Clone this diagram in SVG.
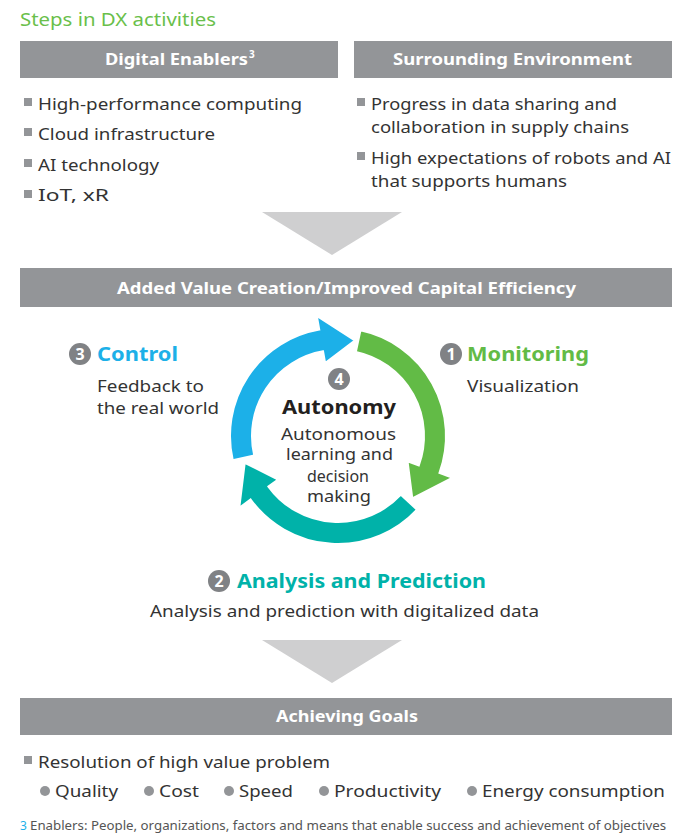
<svg xmlns="http://www.w3.org/2000/svg" width="674" height="838" viewBox="0 0 674 838">
<style>
text{font-family:"Noto Sans","Open Sans","Liberation Sans",sans-serif;fill:#333333}
.t{font-size:17px}
.c{font-size:16px}
.hd{font-size:16px;font-weight:bold;fill:#ffffff}
.band{fill:#939598}
.tri{fill:#cfcfd0}
.sq{fill:#939598}
.num{fill:#808285}
.numt{font-size:16px;font-weight:bold;fill:#ffffff;text-anchor:middle}
.lbl{font-size:20px;font-weight:bold}
.dot{fill:#939598}
</style>
<rect width="674" height="838" fill="#ffffff"/>
<text x="20" y="26" style="font-size:18px;fill:#6abf4b" textLength="196" lengthAdjust="spacingAndGlyphs">Steps in DX activities</text>

<g id="digital-enablers">
<rect class="band" x="20" y="41" width="318" height="37"/>
<text class="hd" x="105" y="65" textLength="143" lengthAdjust="spacingAndGlyphs">Digital Enablers</text>
<text x="249" y="58" style="font-size:10px;font-weight:bold;fill:#ffffff">3</text>
<rect class="sq" x="24" y="98" width="8" height="8"/>
<text class="t" x="38" y="110" textLength="264" lengthAdjust="spacingAndGlyphs">High-performance computing</text>
<rect class="sq" x="24" y="128" width="8" height="8"/>
<text class="t" x="38" y="140" textLength="177" lengthAdjust="spacingAndGlyphs">Cloud infrastructure</text>
<rect class="sq" x="24" y="159" width="8" height="8"/>
<text class="t" x="38" y="171" textLength="121" lengthAdjust="spacingAndGlyphs">AI technology</text>
<rect class="sq" x="24" y="190" width="8" height="8"/>
<text class="t" x="38" y="201" textLength="71" lengthAdjust="spacingAndGlyphs">IoT, xR</text>
</g>

<g id="surrounding-environment">
<rect class="band" x="354" y="41" width="318" height="37"/>
<text class="hd" x="393" y="65" textLength="239" lengthAdjust="spacingAndGlyphs">Surrounding Environment</text>
<rect class="sq" x="357" y="98" width="8" height="8"/>
<text class="t" x="371" y="110" textLength="246" lengthAdjust="spacingAndGlyphs">Progress in data sharing and</text>
<text class="t" x="371" y="133" textLength="258" lengthAdjust="spacingAndGlyphs">collaboration in supply chains</text>
<rect class="sq" x="357" y="152" width="8" height="8"/>
<text class="t" x="371" y="164" textLength="300" lengthAdjust="spacingAndGlyphs">High expectations of robots and AI</text>
<text class="t" x="371" y="187" textLength="196" lengthAdjust="spacingAndGlyphs">that supports humans</text>
</g>

<g id="connectors">
<polygon class="tri" points="262,212 402,212 332,255"/>
<polygon class="tri" points="262,640 402,640 332,683"/>
</g>

<g id="added-value">
<rect class="band" x="20" y="268" width="652" height="39"/>
<text class="hd" x="117" y="294" textLength="459" lengthAdjust="spacingAndGlyphs">Added Value Creation/Improved Capital Efficiency</text>
</g>

<g id="cycle" stroke="#ffffff" stroke-width="2" stroke-linejoin="miter">
<path fill="#00b2a9" d="M416.99,509.66 A108,108 0 0 1 250.63,499.48 L239.30,507.71 L244.76,462.74 L278.13,479.50 L268.43,486.55 A86,86 0 0 0 400.90,494.65 Z"/>
<path fill="#1cb0e8" d="M232.76,460.30 A108,108 0 0 1 319.25,329.64 L316.82,315.85 L354.84,340.47 L325.15,363.12 L323.07,351.31 A86,86 0 0 0 254.20,455.35 Z"/>
<path fill="#62bb46" d="M360.46,330.36 A108,108 0 0 1 439.49,472.94 L452.64,477.73 L412.30,498.35 L407.54,461.31 L418.81,465.41 A86,86 0 0 0 355.88,351.88 Z"/>
</g>

<g id="autonomy">
<circle class="num" cx="339" cy="379" r="11"/>
<text class="numt" x="339" y="385">4</text>
<text x="339" y="414" style="font-size:20px;font-weight:bold;fill:#231f20;text-anchor:middle" textLength="114" lengthAdjust="spacingAndGlyphs">Autonomy</text>
<text class="c" x="338.5" y="440" text-anchor="middle" textLength="115" lengthAdjust="spacingAndGlyphs">Autonomous</text>
<text class="c" x="339.5" y="460" text-anchor="middle" textLength="107" lengthAdjust="spacingAndGlyphs">learning and</text>
<text class="c" x="338" y="482" text-anchor="middle" textLength="62" lengthAdjust="spacingAndGlyphs">decision</text>
<text class="c" x="339" y="502" text-anchor="middle" textLength="64" lengthAdjust="spacingAndGlyphs">making</text>
</g>

<g id="control">
<circle class="num" cx="80" cy="354" r="11"/>
<text class="numt" x="80" y="360">3</text>
<text class="lbl" x="97" y="361" style="fill:#1cb0e8" textLength="81" lengthAdjust="spacingAndGlyphs">Control</text>
<text class="t" x="97" y="392" textLength="107" lengthAdjust="spacingAndGlyphs">Feedback to</text>
<text class="t" x="97" y="414" textLength="122" lengthAdjust="spacingAndGlyphs">the real world</text>
</g>

<g id="monitoring">
<circle class="num" cx="451" cy="354" r="11"/>
<text class="numt" x="451" y="360">1</text>
<text class="lbl" x="467" y="361" style="fill:#62bb46" textLength="122" lengthAdjust="spacingAndGlyphs">Monitoring</text>
<text class="t" x="467" y="392" textLength="112" lengthAdjust="spacingAndGlyphs">Visualization</text>
</g>

<g id="analysis">
<circle class="num" cx="219" cy="581" r="11"/>
<text class="numt" x="219" y="587">2</text>
<text class="lbl" x="237" y="588" style="fill:#00b2a9" textLength="249" lengthAdjust="spacingAndGlyphs">Analysis and Prediction</text>
<text class="t" x="150" y="617" textLength="389" lengthAdjust="spacingAndGlyphs">Analysis and prediction with digitalized data</text>
</g>

<g id="achieving-goals">
<rect class="band" x="20" y="698" width="652" height="37"/>
<text class="hd" x="276" y="722" textLength="142" lengthAdjust="spacingAndGlyphs">Achieving Goals</text>
<rect class="sq" x="24" y="756" width="8" height="8"/>
<text class="t" x="38" y="768" textLength="292" lengthAdjust="spacingAndGlyphs">Resolution of high value problem</text>
<circle class="dot" cx="45" cy="791" r="5"/>
<text class="t" x="55" y="797" textLength="63" lengthAdjust="spacingAndGlyphs">Quality</text>
<circle class="dot" cx="149" cy="791" r="5"/>
<text class="t" x="159" y="797" textLength="40" lengthAdjust="spacingAndGlyphs">Cost</text>
<circle class="dot" cx="229" cy="791" r="5"/>
<text class="t" x="239" y="797" textLength="54" lengthAdjust="spacingAndGlyphs">Speed</text>
<circle class="dot" cx="324" cy="791" r="5"/>
<text class="t" x="334" y="797" textLength="107" lengthAdjust="spacingAndGlyphs">Productivity</text>
<circle class="dot" cx="472" cy="791" r="5"/>
<text class="t" x="482" y="797" textLength="183" lengthAdjust="spacingAndGlyphs">Energy consumption</text>
</g>

<g id="footnote">
<text x="20" y="830" style="font-size:12px;fill:#1cb0e8">3</text>
<text x="30" y="830" style="font-size:12px;fill:#555555" textLength="636" lengthAdjust="spacingAndGlyphs">Enablers: People, organizations, factors and means that enable success and achievement of objectives</text>
</g>
</svg>
